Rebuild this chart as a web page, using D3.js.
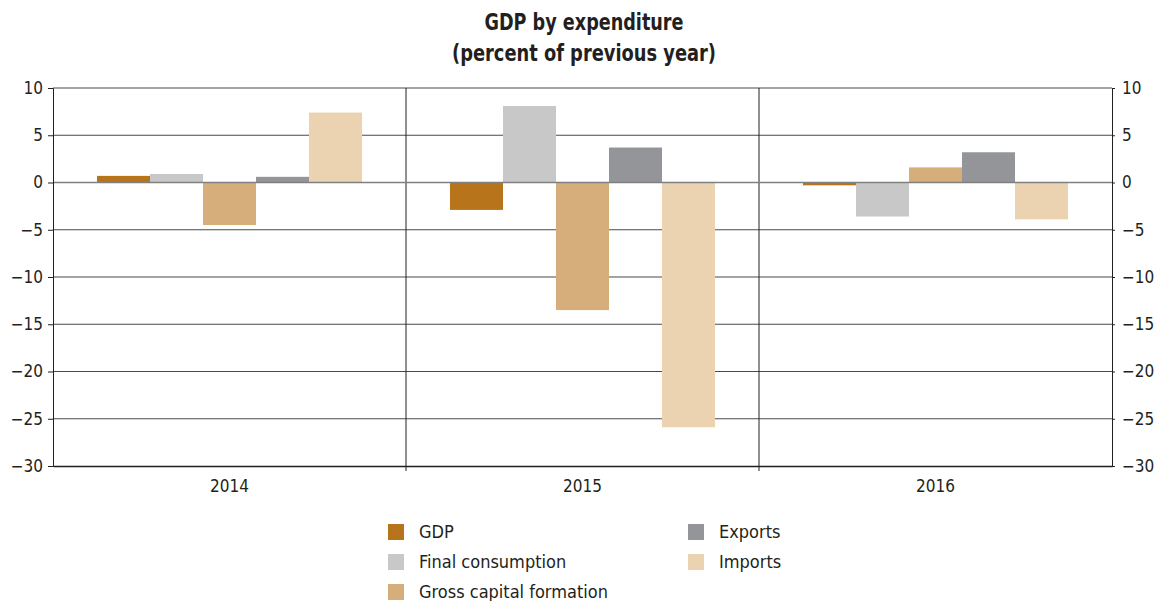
<!DOCTYPE html>
<html>
<head>
<meta charset="utf-8">
<script src="https://cdn.jsdelivr.net/npm/d3@7"></script>
<style>
  body { margin: 0; background: #fff; }
  text { font-family: "DejaVu Sans Condensed", "Liberation Sans Narrow", sans-serif; fill: #231f20; }
</style>
</head>
<body>
<script>
(function () {
  "use strict";

  var years = ["2014", "2015", "2016"];
  var seriesNames = ["GDP", "Final consumption", "Gross capital formation", "Exports", "Imports"];
  var seriesColors = ["#b8741a", "#c8c8c9", "#d6ae7c", "#949598", "#ebd3b1"];
  var gdp = [0.7, -2.9, -0.3];
  var finalConsumption = [0.9, 8.1, -3.6];
  var grossCapital = [-4.5, -13.5, 1.6];
  var exportsVals = [0.6, 3.7, 3.2];
  var importsVals = [7.4, -25.9, -3.9];
  var yTicks = [10, 5, 0, -5, -10, -15, -20, -25, -30];

  var series = [gdp, finalConsumption, grossCapital, exportsVals, importsVals];

  var outerWidth = 1157,
      outerHeight = 601,
      left = 53, right = 1112, top = 88, bottom = 466;

  var svg = d3.select('body').append('svg')
      .attr('width', outerWidth)
      .attr('height', outerHeight);

  var x0 = d3.scaleBand().domain(years).range([left, right]).paddingInner(0).paddingOuter(0);
  var x1 = d3.scaleBand().domain(d3.range(seriesNames.length))
      .range([0, x0.bandwidth()]).paddingInner(0).paddingOuter(0.83);
  var y = d3.scaleLinear().domain([-30, 10]).range([bottom, top]);

  function minus(d) { return d < 0 ? '\u2212' + Math.abs(d) : d; }

  // title
  svg.append('text').attr('x', 584).attr('y', 30).attr('text-anchor', 'middle')
      .attr('textLength', 199).attr('lengthAdjust', 'spacingAndGlyphs')
      .style('font-size', '23px').style('font-weight', 'bold').text('GDP by expenditure');
  svg.append('text').attr('x', 584).attr('y', 61).attr('text-anchor', 'middle')
      .attr('textLength', 264).attr('lengthAdjust', 'spacingAndGlyphs')
      .style('font-size', '23px').style('font-weight', 'bold').text('(percent of previous year)');

  // gridlines
  svg.selectAll('.grid')
      .data(yTicks.filter(function (d) { return d !== 0 && d !== -30; }))
      .enter().append('line')
      .attr('x1', left).attr('x2', right)
      .attr('y1', function (d) { return y(d); })
      .attr('y2', function (d) { return y(d); })
      .style('stroke', '#4a4a4a').style('stroke-width', 1.2);

  // group dividers
  svg.selectAll('.divider')
      .data(years.slice(1))
      .enter().append('line')
      .attr('x1', function (d) { return x0(d); })
      .attr('x2', function (d) { return x0(d); })
      .attr('y1', top).attr('y2', bottom + 5)
      .style('stroke', '#231f20').style('stroke-width', 1);

  // bars
  var groups = svg.selectAll('.group')
      .data(years)
      .enter().append('g')
      .attr('transform', function (d) { return 'translate(' + x0(d) + ',0)'; });

  groups.selectAll('rect')
      .data(function (d, i) { return series.map(function (s, k) { return {k: k, v: s[i]}; }); })
      .enter().append('rect')
      .attr('x', function (d) { return x1(d.k); })
      .attr('width', x1.bandwidth())
      .attr('y', function (d) { return y(Math.max(0, d.v)); })
      .attr('height', function (d) { return Math.abs(y(d.v) - y(0)); })
      .style('fill', function (d) { return seriesColors[d.k]; });

  // zero line
  svg.append('line')
      .attr('x1', left).attr('x2', right)
      .attr('y1', y(0)).attr('y2', y(0))
      .style('stroke', '#808080').style('stroke-width', 1.5);

  // axes
  var leftAxis = d3.axisLeft(y).tickValues(yTicks).tickSize(5).tickPadding(5).tickFormat(minus);
  var rightAxis = d3.axisRight(y).tickValues(yTicks).tickSize(3).tickPadding(7).tickFormat(minus);

  [svg.append('g').attr('transform', 'translate(' + left + ',0)').call(leftAxis),
   svg.append('g').attr('transform', 'translate(' + right + ',0)').call(rightAxis)]
    .forEach(function (g) {
      g.select('.domain').attr('stroke', '#231f20');
      g.selectAll('.tick line').attr('stroke', '#231f20');
      g.selectAll('.tick text').style('font-size', '17px').style('font-family', null);
    });

  var xAxis = d3.axisBottom(x0).tickSize(0).tickPadding(14);
  var xg = svg.append('g').attr('transform', 'translate(0,' + bottom + ')').call(xAxis);
  xg.select('.domain').attr('stroke', '#231f20').attr('stroke-width', 1.5);
  xg.selectAll('.tick text').style('font-size', '17px').style('font-family', null);

  // legend
  var legend = svg.selectAll('.legend')
      .data(seriesNames)
      .enter().append('g')
      .attr('transform', function (d, i) {
        var col = i < 3 ? 0 : 1, row = i < 3 ? i : i - 3;
        return 'translate(' + (col === 0 ? 388 : 688) + ',' + (524 + row * 30) + ')';
      });
  legend.append('rect').attr('width', 16).attr('height', 16)
      .style('fill', function (d, i) { return seriesColors[i]; });
  legend.append('text').attr('x', 31).attr('y', 14)
      .style('font-size', '18px').text(function (d) { return d; });
}());
</script>
</body>
</html>
